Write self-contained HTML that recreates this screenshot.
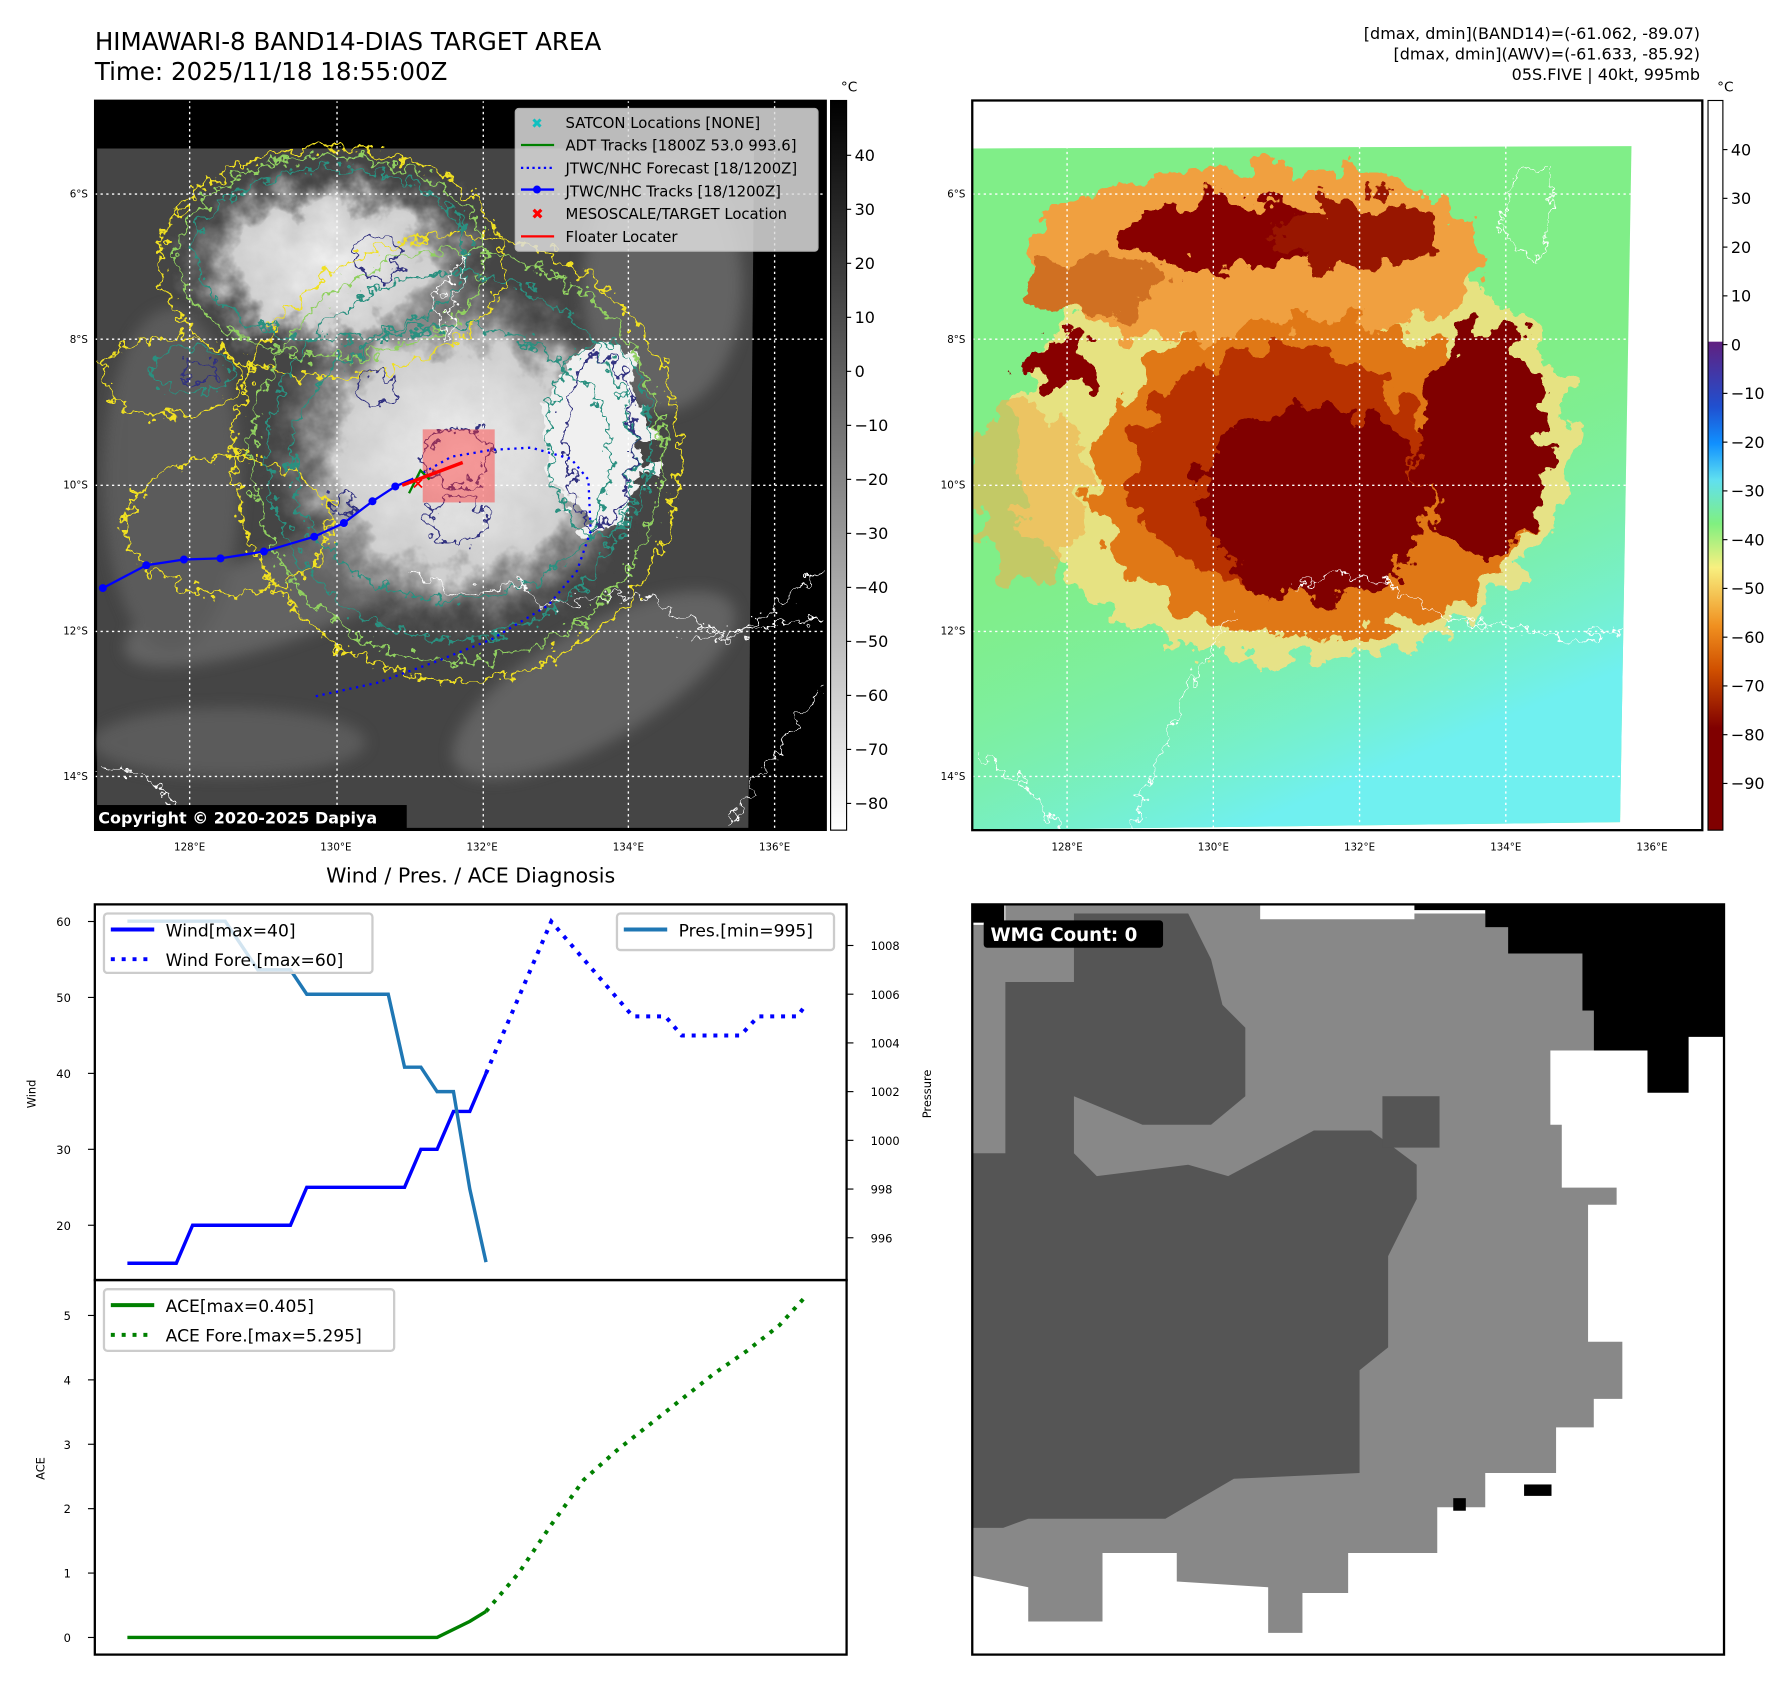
<!DOCTYPE html>
<html><head><meta charset="utf-8"><style>
html,body{margin:0;padding:0;background:#fff;}
svg{display:block;font-family:"DejaVu Sans","Liberation Sans",sans-serif;}
</style></head><body>
<svg id="fig" width="1788" height="1690" viewBox="0 0 1565 1480" preserveAspectRatio="none" xmlns="http://www.w3.org/2000/svg">
<defs>
<filter id="rag" x="-20%" y="-20%" width="140%" height="140%"><feTurbulence type="fractalNoise" baseFrequency="0.09" numOctaves="3" seed="3"/><feDisplacementMap in="SourceGraphic" scale="26" xChannelSelector="R" yChannelSelector="G"/></filter>
<filter id="rag2" x="-20%" y="-20%" width="140%" height="140%"><feTurbulence type="fractalNoise" baseFrequency="0.04" numOctaves="4" seed="7"/><feDisplacementMap in="SourceGraphic" scale="50" xChannelSelector="R" yChannelSelector="G"/></filter>
<filter id="tex" x="0" y="0" width="100%" height="100%"><feTurbulence type="fractalNoise" baseFrequency="0.05 0.12" numOctaves="3" seed="11" result="n"/><feColorMatrix in="n" type="matrix" values="0 0 0 0 0  0 0 0 0 0  0 0 0 0 0  0 0 0 -1.4 0.9" result="a"/><feComposite in="SourceGraphic" in2="a" operator="in"/></filter>
<filter id="blur6"><feGaussianBlur stdDeviation="6"/></filter>
<radialGradient id="cloudC"><stop offset="0" stop-color="#eeeeee"/><stop offset="0.6" stop-color="#cfcfcf"/><stop offset="1" stop-color="#666" stop-opacity="0"/></radialGradient>
<linearGradient id="gcb" x1="0" y1="0" x2="0" y2="1"><stop offset="0" stop-color="#000"/><stop offset="1" stop-color="#fff"/></linearGradient>
<linearGradient id="ccb" x1="0" y1="0" x2="0" y2="1">
<stop offset="0" stop-color="#fff"/><stop offset="0.33" stop-color="#fff"/><stop offset="0.331" stop-color="#602080"/>
<stop offset="0.42" stop-color="#2050d0"/><stop offset="0.47" stop-color="#1090ff"/><stop offset="0.52" stop-color="#60e0f0"/>
<stop offset="0.58" stop-color="#80f080"/><stop offset="0.64" stop-color="#f8f080"/><stop offset="0.72" stop-color="#f09020"/>
<stop offset="0.78" stop-color="#d05000"/><stop offset="0.86" stop-color="#800000"/><stop offset="1" stop-color="#800000"/></linearGradient>
<linearGradient id="cyan" x1="0" y1="0" x2="0.4" y2="1"><stop offset="0.55" stop-color="#80f0a0" stop-opacity="0"/><stop offset="1" stop-color="#70f0f0"/></linearGradient>
<clipPath id="clipL"><rect x="83" y="88" width="640" height="639"/></clipPath>
<clipPath id="clipR"><rect x="851" y="88" width="639" height="639"/></clipPath>
</defs>

<text x="83" y="44" font-size="21.5">HIMAWARI-8 BAND14-DIAS TARGET AREA</text>
<text x="83" y="70" font-size="21.5">Time: 2025/11/18 18:55:00Z</text>
<g font-size="14" text-anchor="end">
<text x="1488" y="34">[dmax, dmin](BAND14)=(-61.062, -89.07)</text>
<text x="1488" y="52">[dmax, dmin](AWV)=(-61.633, -85.92)</text>
<text x="1488" y="70">05S.FIVE | 40kt, 995mb</text></g>

<!-- LEFT MAP -->
<g clip-path="url(#clipL)">
<rect x="83" y="88" width="640" height="639" fill="#000"/>
<polygon points="85,130 660,130 655,725 85,725" fill="#454545"/>
<g filter="url(#blur6)" opacity="0.6">
<ellipse cx="250" cy="520" rx="150" ry="40" fill="#777" transform="rotate(-20 250 520)"/>
<ellipse cx="520" cy="600" rx="140" ry="50" fill="#777" transform="rotate(-30 520 600)"/>
<ellipse cx="200" cy="650" rx="120" ry="30" fill="#6a6a6a"/>
<ellipse cx="580" cy="250" rx="70" ry="110" fill="#777"/>
<ellipse cx="150" cy="420" rx="60" ry="150" fill="#6a6a6a"/>
</g>
<g filter="url(#rag2)">
<ellipse cx="400" cy="400" rx="170" ry="160" fill="url(#cloudC)"/>
<ellipse cx="290" cy="230" rx="140" ry="85" fill="url(#cloudC)"/>
<ellipse cx="525" cy="380" rx="45" ry="80" fill="#f0f0f0"/>
</g>
<g fill="none" stroke-width="2" filter="url(#rag)">
<ellipse cx="400" cy="400" rx="195" ry="195" stroke="#f0e020"/>
<ellipse cx="290" cy="230" rx="150" ry="100" stroke="#f0e020"/>
<ellipse cx="150" cy="330" rx="60" ry="35" stroke="#f0e020"/>
<ellipse cx="200" cy="460" rx="90" ry="60" stroke="#f0e020"/>
<ellipse cx="400" cy="400" rx="180" ry="180" stroke="#90d060"/>
<ellipse cx="290" cy="225" rx="135" ry="88" stroke="#90d060"/>
<ellipse cx="395" cy="400" rx="160" ry="160" stroke="#2a9080"/>
<ellipse cx="290" cy="222" rx="120" ry="75" stroke="#2a9080"/>
<ellipse cx="525" cy="385" rx="45" ry="85" stroke="#2a9080"/>
<ellipse cx="168" cy="325" rx="35" ry="20" stroke="#2a9080"/>
<ellipse cx="395" cy="405" rx="140" ry="120" stroke="#2a9080"/>
<ellipse cx="525" cy="385" rx="30" ry="75" stroke="#303080"/>
<ellipse cx="330" cy="225" rx="20" ry="20" stroke="#303080"/>
<ellipse cx="400" cy="400" rx="30" ry="25" stroke="#303080"/>
<ellipse cx="400" cy="455" rx="25" ry="20" stroke="#303080"/>
<ellipse cx="330" cy="340" rx="18" ry="14" stroke="#303080"/>
<ellipse cx="175" cy="325" rx="15" ry="10" stroke="#303080"/>
<ellipse cx="300" cy="440" rx="12" ry="10" stroke="#303080"/>
</g>
<g fill="none" stroke="#fff" stroke-width="1.2" filter="url(#rag)">
<path d="M360,500 L400,520 L450,510 L480,530 L560,520 L640,560 L722,500"/>
<path d="M85,670 L130,680 L160,715 M640,720 L690,640 L722,600 M600,560 L720,540"/>
<path d="M410,220 L390,300 L380,260 Z"/>
</g>
<g stroke="#fff" stroke-dasharray="2,3" stroke-width="1.2">
<line x1="166" y1="88" x2="166" y2="727"/><line x1="295" y1="88" x2="295" y2="727"/><line x1="423" y1="88" x2="423" y2="727"/><line x1="550" y1="88" x2="550" y2="727"/><line x1="678" y1="88" x2="678" y2="727"/>
<line x1="83" y1="170" x2="723" y2="170"/><line x1="83" y1="297" x2="723" y2="297"/><line x1="83" y1="425" x2="723" y2="425"/><line x1="83" y1="553" x2="723" y2="553"/><line x1="83" y1="680" x2="723" y2="680"/>
</g>
<rect x="370" y="376" width="63" height="64" fill="#ff3030" opacity="0.45"/>
<polyline points="360,420 395,400 430,394 465,392 500,402 515,420 517,465 505,500 480,530 430,560 380,580 330,598 275,610" fill="none" stroke="#0000ff" stroke-width="2" stroke-dasharray="2,4"/>
<polyline points="90,515 128,495 161,490 193,489 231,483 275,470 301,458 326,439 346,426 360,420" fill="none" stroke="#0000ff" stroke-width="2"/>
<g fill="#0000ff"><circle cx="90" cy="515" r="3.5"/><circle cx="128" cy="495" r="3.5"/><circle cx="161" cy="490" r="3.5"/><circle cx="193" cy="489" r="3.5"/><circle cx="231" cy="483" r="3.5"/><circle cx="275" cy="470" r="3.5"/><circle cx="301" cy="458" r="3.5"/><circle cx="326" cy="439" r="3.5"/><circle cx="346" cy="426" r="3.5"/></g>
<polyline points="358,432 368,412 376,420" fill="none" stroke="#008000" stroke-width="2"/>
<line x1="352" y1="425" x2="405" y2="405" stroke="#ff0000" stroke-width="3"/>
<text x="360" y="428" fill="#ff0000" font-size="14" font-weight="bold">×</text>
<rect x="451" y="95" width="265" height="125" rx="3" fill="#dcdcdc" opacity="0.85" stroke="#ccc"/>
<g font-size="13">
<text x="465" y="112" fill="#10c0c0" font-weight="bold" font-size="12">✖</text><text x="495" y="112">SATCON Locations [NONE]</text>
<line x1="456" y1="127" x2="485" y2="127" stroke="#008000" stroke-width="2"/><text x="495" y="132">ADT Tracks [1800Z 53.0 993.6]</text>
<line x1="456" y1="147" x2="485" y2="147" stroke="#0000ff" stroke-width="2" stroke-dasharray="2,3"/><text x="495" y="152">JTWC/NHC Forecast [18/1200Z]</text>
<line x1="456" y1="166" x2="485" y2="166" stroke="#0000ff" stroke-width="2"/><circle cx="470" cy="166" r="3.5" fill="#0000ff"/><text x="495" y="172">JTWC/NHC Tracks [18/1200Z]</text>
<text x="465" y="192" fill="#ff0000" font-weight="bold" font-size="13">✖</text><text x="495" y="192">MESOSCALE/TARGET Location</text>
<line x1="456" y1="207" x2="485" y2="207" stroke="#ff0000" stroke-width="2"/><text x="495" y="212">Floater Locater</text>
</g>
<rect x="81" y="705" width="275" height="22" fill="#000"/>
<text x="86" y="721" fill="#fff" font-size="14" font-weight="bold">Copyright © 2020-2025 Dapiya</text>
</g>
<rect x="83" y="88" width="640" height="639" fill="none" stroke="#000" stroke-width="1.5"/>

<rect x="727" y="88" width="14" height="639" fill="url(#gcb)" stroke="#000"/>
<text x="736" y="80" font-size="12">°C</text>
<g font-size="14" id="lcbt"></g>

<!-- RIGHT MAP -->
<g clip-path="url(#clipR)">
<rect x="851" y="88" width="639" height="639" fill="#fff"/>
<polygon points="851,130 1428,128 1418,720 851,727" fill="#80ee88"/>
<polygon points="851,130 1428,128 1418,720 851,727" fill="url(#cyan)"/>
<g filter="url(#rag2)">
<ellipse cx="1130" cy="390" rx="245" ry="190" fill="#f8e080" opacity="0.85"/>
<ellipse cx="1100" cy="225" rx="200" ry="80" fill="#f0a040"/>
<ellipse cx="1150" cy="420" rx="195" ry="140" fill="#e07818"/>
<ellipse cx="1120" cy="410" rx="130" ry="105" fill="#b83000"/>
<ellipse cx="1150" cy="440" rx="100" ry="85" fill="#800000"/>
<ellipse cx="1300" cy="385" rx="55" ry="100" fill="#800000"/>
<ellipse cx="1080" cy="205" rx="90" ry="30" fill="#880400"/>
<ellipse cx="1190" cy="205" rx="70" ry="30" fill="#981800"/>
<ellipse cx="930" cy="320" rx="35" ry="20" fill="#880400"/>
<ellipse cx="960" cy="250" rx="60" ry="25" fill="#d07020"/>
<ellipse cx="900" cy="430" rx="50" ry="80" fill="#f0b050" opacity="0.6"/>
</g>
<g fill="none" stroke="#fff" stroke-width="1.2" filter="url(#rag)">
<path d="M1130,515 L1170,500 L1210,510 L1260,540 L1320,550 L1380,560 L1420,550"/>
<path d="M1080,540 L1040,600 L1000,700 L990,727 M860,660 L910,700 L930,727"/>
<path d="M1330,150 L1310,200 L1350,230 L1360,150 Z"/>
</g>
<g stroke="#fff" stroke-dasharray="2,3" stroke-width="1.2">
<line x1="934" y1="88" x2="934" y2="727"/><line x1="1062" y1="88" x2="1062" y2="727"/><line x1="1190" y1="88" x2="1190" y2="727"/><line x1="1318" y1="88" x2="1318" y2="727"/><line x1="1446" y1="88" x2="1446" y2="727"/>
<line x1="851" y1="170" x2="1490" y2="170"/><line x1="851" y1="297" x2="1490" y2="297"/><line x1="851" y1="425" x2="1490" y2="425"/><line x1="851" y1="553" x2="1490" y2="553"/><line x1="851" y1="680" x2="1490" y2="680"/>
</g>
</g>
<rect x="851" y="88" width="639" height="639" fill="none" stroke="#000" stroke-width="2"/>
<rect x="1495" y="88" width="13" height="639" fill="url(#ccb)" stroke="#000"/>
<text x="1503" y="80" font-size="12">°C</text>
<g font-size="14" id="rcbt"></g>
<g font-size="9" id="maplabels"></g>

<!-- BOTTOM RIGHT -->
<g>
<rect x="851" y="792" width="658" height="657" fill="#fff"/>
<polygon fill="#888" points="851,810 880,810 880,792 1103,792 1103,805 1238,805 1238,800 1300,800 1300,812 1320,812 1320,835 1385,835 1385,885 1395,885 1395,920 1357,920 1357,985 1367,985 1367,1040 1415,1040 1415,1055 1390,1055 1390,1175 1420,1175 1420,1225 1395,1225 1395,1250 1362,1250 1362,1290 1300,1290 1300,1320 1258,1320 1258,1360 1180,1360 1180,1395 1140,1395 1140,1430 1110,1430 1110,1390 1030,1385 1030,1360 965,1360 965,1420 900,1420 900,1390 851,1380"/>
<polygon fill="#555" points="851,1010 880,1010 880,900 880,860 940,860 940,800 1040,800 1060,840 1070,880 1090,900 1090,960 1060,985 1000,985 940,960 940,1010 960,1030 1040,1020 1075,1030 1150,990 1200,990 1240,1020 1240,1050 1215,1100 1215,1180 1190,1200 1190,1290 1080,1295 1020,1330 900,1330 878,1338 851,1338"/>
<rect x="1210" y="960" width="50" height="45" fill="#555"/>
<polygon fill="#000" points="1238,792 1509,792 1509,908 1478,908 1478,957 1442,957 1442,920 1395,920 1395,885 1385,885 1385,835 1320,835 1320,812 1300,812 1300,797 1238,797"/>
<rect x="851" y="792" width="28" height="16" fill="#000"/>
<rect x="1334" y="1300" width="24" height="10" fill="#000"/><rect x="1272" y="1312" width="11" height="11" fill="#000"/>
<rect x="861" y="806" width="157" height="24" rx="3" fill="#000"/>
<text x="867" y="824" fill="#fff" font-size="16" font-weight="bold">WMG Count: 0</text>
<rect x="851" y="792" width="658" height="657" fill="none" stroke="#000" stroke-width="2"/>
</g>

<text x="412" y="773" font-size="18" text-anchor="middle">Wind / Pres. / ACE Diagnosis</text>
<g id="chart"></g>
</svg>
<script>
const windIdx = [0,3,4,10,11,17,18,19,20,21,22];
const windVals = [15,15,20,20,25,25,30,30,35,35,40];
const windForeIdx = [22,26,31,33,34,37.6,38.7,41.1,41.6];
const windForeVals = [40,60,47.5,47.5,45,45,47.5,47.5,49];
const presIdx = [0,6,8,10,11,16,17,18,19,20,21,22];
const presVals = [1009,1009,1007,1007,1006,1006,1003,1003,1002,1002,998,995];
const aceIdx = [0,19,21,22];
const aceVals = [0,0,0.25,0.405];
const aceForeIdx = [22,24,26,28,30,32,34,36,38,40,41.6];
const aceForeVals = [0.405,1.0,1.75,2.45,2.9,3.3,3.7,4.1,4.45,4.85,5.295];
const windTicks = [20,30,40,50,60];
const presTicks = [996,998,1000,1002,1004,1006,1008];
const aceTicks = [0,1,2,3,4,5];
const lonLabels = ["128°E","130°E","132°E","134°E","136°E"];
const latLabels = ["6°S","8°S","10°S","12°S","14°S"];
const grayCbTicks = [40,30,20,10,0,-10,-20,-30,-40,-50,-60,-70,-80];
const colorCbTicks = [40,30,20,10,0,-10,-20,-30,-40,-50,-60,-70,-80,-90];

const NS="http://www.w3.org/2000/svg";
function mk(tag, attrs, parent){const e=document.createElementNS(NS,tag);for(const k in attrs)e.setAttribute(k,attrs[k]);parent.appendChild(e);return e;}
const x = i => 111.5 + i*14.27;
const yW = w => 807 + (60-w)*6.65;
const yP = p => 828 + (1008-p)*21.33;
const yA = a => 1434 - a*56.4;
const g = document.getElementById('chart');
const pts = (xs,ys,f)=>xs.map((v,i)=>x(v).toFixed(1)+','+f(ys[i]).toFixed(1)).join(' ');

let fr = mk('rect',{x:83,y:792,width:658,height:329,fill:'none',stroke:'#000','stroke-width':2},g);


fr = mk('rect',{x:83,y:1121,width:658,height:328,fill:'none',stroke:'#000','stroke-width':2},g);



windTicks.forEach(v=>{mk('line',{x1:77,x2:83,y1:yW(v),y2:yW(v),stroke:'#000'},g);
 const t=mk('text',{x:62,y:yW(v)+4,'font-size':10,'text-anchor':'end'},g);t.textContent=v;
 
 });
presTicks.forEach(v=>{mk('line',{x1:741,x2:747,y1:yP(v),y2:yP(v),stroke:'#000'},g);
 const t=mk('text',{x:762,y:yP(v)+4,'font-size':10},g);t.textContent=v;
 
 });
aceTicks.forEach(v=>{mk('line',{x1:77,x2:83,y1:yA(v),y2:yA(v),stroke:'#000'},g);
 const t=mk('text',{x:62,y:yA(v)+4,'font-size':10,'text-anchor':'end'},g);t.textContent=v;
 
 });
let t=mk('text',{x:31,y:958,'font-size':10,'text-anchor':'middle',transform:'rotate(-90 31 958)'},g);t.textContent='Wind';


t=mk('text',{x:815,y:958,'font-size':10,'text-anchor':'middle',transform:'rotate(-90 815 958)'},g);t.textContent='Pressure';


t=mk('text',{x:39,y:1286,'font-size':10,'text-anchor':'middle',transform:'rotate(-90 39 1286)'},g);t.textContent='ACE';



let l=mk('polyline',{points:pts(windIdx,windVals,yW),fill:'none',stroke:'#0000ff','stroke-width':3},g);


l=mk('polyline',{points:pts(windForeIdx,windForeVals,yW),fill:'none',stroke:'#0000ff','stroke-width':3.5,'stroke-dasharray':'3.5,6'},g);


l=mk('polyline',{points:pts(presIdx,presVals,yP),fill:'none',stroke:'#1f77b4','stroke-width':3},g);


l=mk('polyline',{points:pts(aceIdx,aceVals,yA),fill:'none',stroke:'#008000','stroke-width':3},g);


l=mk('polyline',{points:pts(aceForeIdx,aceForeVals,yA),fill:'none',stroke:'#008000','stroke-width':3.5,'stroke-dasharray':'3.5,6'},g);



function legend(x0,y0,w,h,items,name){
 const lg=mk('g',{},g);
 
 
 mk('rect',{x:x0,y:y0,width:w,height:h,rx:3,fill:'#fff','fill-opacity':0.8,stroke:'#ccc','stroke-width':2},lg);
 items.forEach((it,i)=>{const yy=y0+14+i*26;
  const a={x1:x0+6,x2:x0+44,y1:yy,y2:yy,stroke:it[1],'stroke-width':3.5};if(it[2])a['stroke-dasharray']='3.5,6';mk('line',a,lg);
  const tt=mk('text',{x:x0+54,y:yy+6,'font-size':15},lg);tt.textContent=it[0];});
}
legend(91,800,235,52,[['Wind[max=40]','#0000ff',0],['Wind Fore.[max=60]','#0000ff',1]],'wind-legend');
legend(540,800,190,32,[['Pres.[min=995]','#1f77b4',0]],'pressure-legend');
legend(91,1129,254,54,[['ACE[max=0.405]','#008000',0],['ACE Fore.[max=5.295]','#008000',1]],'ace-legend');

const ml=document.getElementById('maplabels');
[0,768].forEach(off=>{
 lonLabels.forEach((s,i)=>{const tx=mk('text',{x:166+i*128+off,y:745,'text-anchor':'middle'},ml);tx.textContent=s;
  
  });
 latLabels.forEach((s,i)=>{const tx=mk('text',{x:77+off,y:173+i*127.5,'text-anchor':'end'},ml);tx.textContent=s;
  
  });
});
const lc=document.getElementById('lcbt');
grayCbTicks.forEach((v,i)=>{const yy=136+i*47.3;mk('line',{x1:741,x2:745,y1:yy,y2:yy,stroke:'#000'},lc);
 const tx=mk('text',{x:748,y:yy+5},lc);tx.textContent=v<0?'\u2212'+(-v):v;
 
 });
const rc=document.getElementById('rcbt');
colorCbTicks.forEach((v,i)=>{const yy=131+i*42.7;mk('line',{x1:1508,x2:1512,y1:yy,y2:yy,stroke:'#000'},rc);
 const tx=mk('text',{x:1515,y:yy+5},rc);tx.textContent=v<0?'\u2212'+(-v):v;
 
 });
</script>
</body></html>
